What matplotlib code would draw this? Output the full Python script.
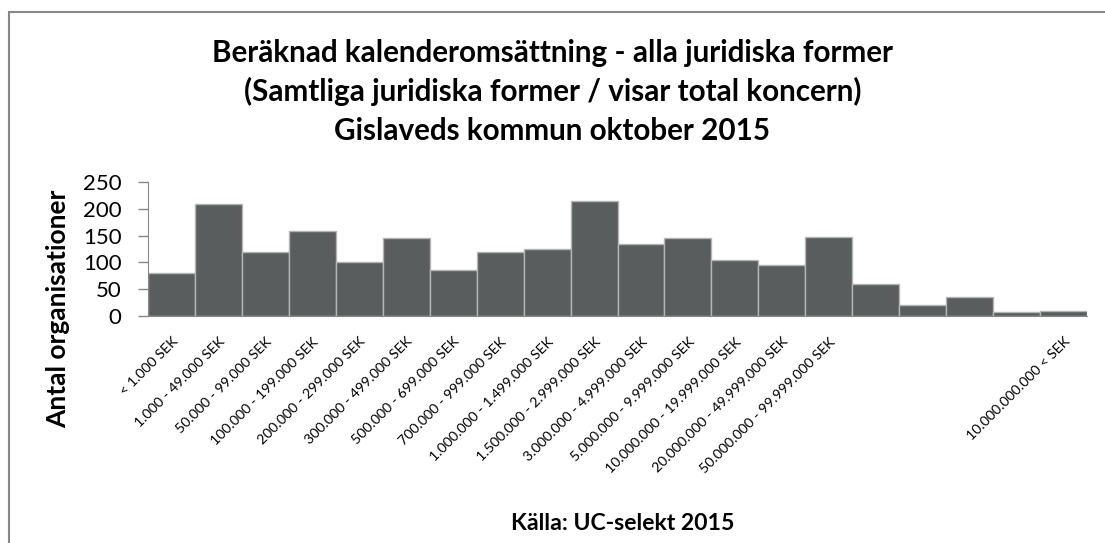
import matplotlib
matplotlib.use("Agg")
import matplotlib.pyplot as plt
import numpy as np
from matplotlib.patches import Rectangle

plt.rcParams['font.family'] = ['Lato', 'DejaVu Sans']

categories = ["< 1.000 SEK", "1.000 - 49.000 SEK", "50.000 - 99.000 SEK", "100.000 - 199.000 SEK",
              "200.000 - 299.000 SEK", "300.000 - 499.000 SEK", "500.000 - 699.000 SEK",
              "700.000 - 999.000 SEK", "1.000.000 - 1.499.000 SEK", "1.500.000 - 2.999.000 SEK",
              "3.000.000 - 4.999.000 SEK", "5.000.000 - 9.999.000 SEK", "10.000.000 - 19.999.000 SEK",
              "20.000.000 - 49.999.000 SEK", "50.000.000 - 99.999.000 SEK", "", "", "", "",
              "10.000.000.000 < SEK"]
counts = [80, 209, 120, 158, 100, 146, 86, 120, 125, 214, 135, 145, 104, 95, 148, 59, 21, 36, 8, 9]
y_ticks = [0, 50, 100, 150, 200, 250]

title_lines = ["Beräknad kalenderomsättning - alla juridiska former",
               "(Samtliga juridiska former / visar total koncern)",
               "Gislaveds kommun oktober 2015"]

W, H = 1105, 543
fig = plt.figure(figsize=(W / 100, H / 100), dpi=100)
ax = fig.add_axes([148 / W, 1 - 316 / H, 939 / W, 134 / H])

# outer chart frame (cut by the image edge on right and bottom)
fig.patches.append(Rectangle((9 / W, -0.1), 1.2, 1 - 12 / H + 0.1, transform=fig.transFigure,
                             fill=False, edgecolor="#878787", linewidth=1.5))

x = np.arange(len(counts))
ax.bar(x, counts, width=1.0, color="#595d5e", edgecolor="#b4b6b6", linewidth=1.0)

ax.set_xlim(-0.5, len(counts) - 0.5)
ax.set_ylim(0, 250)
ax.set_yticks(y_ticks)
ax.tick_params(axis="y", labelsize=16, length=7, width=1, color="#888888", pad=12)
ax.set_xticks(x)
ax.set_xticklabels(categories, rotation=45, ha="right", va="top", rotation_mode="anchor", fontsize=10.2)
ax.tick_params(axis="x", length=0, pad=14)

for side in ["top", "right"]:
    ax.spines[side].set_visible(False)
ax.spines["left"].set_color("#888888")
ax.spines["bottom"].set_color("#888888")

# axis title, placed like the original (starts near the top tick and runs down past the axis)
fig.text(58 / W, 1 - 190 / H, "Antal organisationer", rotation=90, ha="center", va="top",
         fontsize=19, fontweight="bold")

for i, line in enumerate(title_lines):
    fig.text(0.5, 1 - (62 + 39 * i) / H, line, ha="center", va="baseline", fontsize=21.3, fontweight="bold")

fig.text(623 / W, 1 - 530 / H, "Källa: UC-selekt 2015", ha="center", va="baseline", fontsize=16.6, fontweight="bold")

fig.savefig("out.png", dpi=100)
